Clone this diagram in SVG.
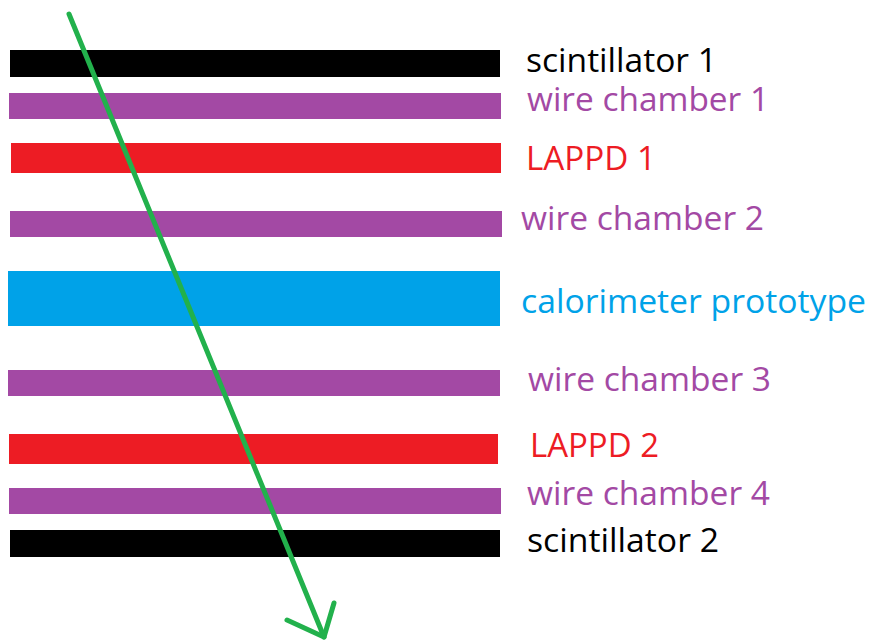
<svg xmlns="http://www.w3.org/2000/svg" width="873" height="642" viewBox="0 0 873 642">
<style>
text{font-family:"Open Sans","Noto Sans","Liberation Sans",sans-serif;font-size:32px}
.blk{fill:#000000}
.pur{fill:#A349A4}
.red{fill:#ED1C24}
.blu{fill:#00A2E8}
.arrow{stroke:#22B14C;stroke-width:5;fill:none;stroke-linecap:round;stroke-linejoin:round}
</style>
<rect width="873" height="642" fill="#ffffff"/>
<g id="scintillator1"><rect class="blk" x="10" y="50" width="490" height="27"/><text class="blk" x="526" y="72" textLength="191" lengthAdjust="spacingAndGlyphs">scintillator 1</text></g>
<g id="wirechamber1"><rect class="pur" x="9" y="93" width="492" height="26"/><text class="pur" x="527" y="111" textLength="242" lengthAdjust="spacingAndGlyphs">wire chamber 1</text></g>
<g id="lappd1"><rect class="red" x="11" y="143" width="490" height="30"/><text class="red" x="526" y="170" textLength="130" lengthAdjust="spacingAndGlyphs">LAPPD 1</text></g>
<g id="wirechamber2"><rect class="pur" x="10" y="211" width="492" height="26"/><text class="pur" x="521" y="230" textLength="243" lengthAdjust="spacingAndGlyphs">wire chamber 2</text></g>
<g id="calorimeter"><rect class="blu" x="8" y="271" width="492" height="55"/><text class="blu" x="521" y="313" textLength="345" lengthAdjust="spacingAndGlyphs">calorimeter prototype</text></g>
<g id="wirechamber3"><rect class="pur" x="8" y="370" width="492" height="26"/><text class="pur" x="528" y="391" textLength="243" lengthAdjust="spacingAndGlyphs">wire chamber 3</text></g>
<g id="lappd2"><rect class="red" x="9" y="434" width="489" height="30"/><text class="red" x="530" y="457" textLength="129" lengthAdjust="spacingAndGlyphs">LAPPD 2</text></g>
<g id="wirechamber4"><rect class="pur" x="9" y="488" width="492" height="26"/><text class="pur" x="527" y="505" textLength="243" lengthAdjust="spacingAndGlyphs">wire chamber 4</text></g>
<g id="scintillator2"><rect class="blk" x="10" y="530" width="490" height="27"/><text class="blk" x="527" y="552" textLength="192" lengthAdjust="spacingAndGlyphs">scintillator 2</text></g>
<g id="connectors">
<path class="arrow" d="M69,14 L324,637"/>
<path class="arrow" d="M287,620 L324,637 L334,603"/>
</g>
</svg>
